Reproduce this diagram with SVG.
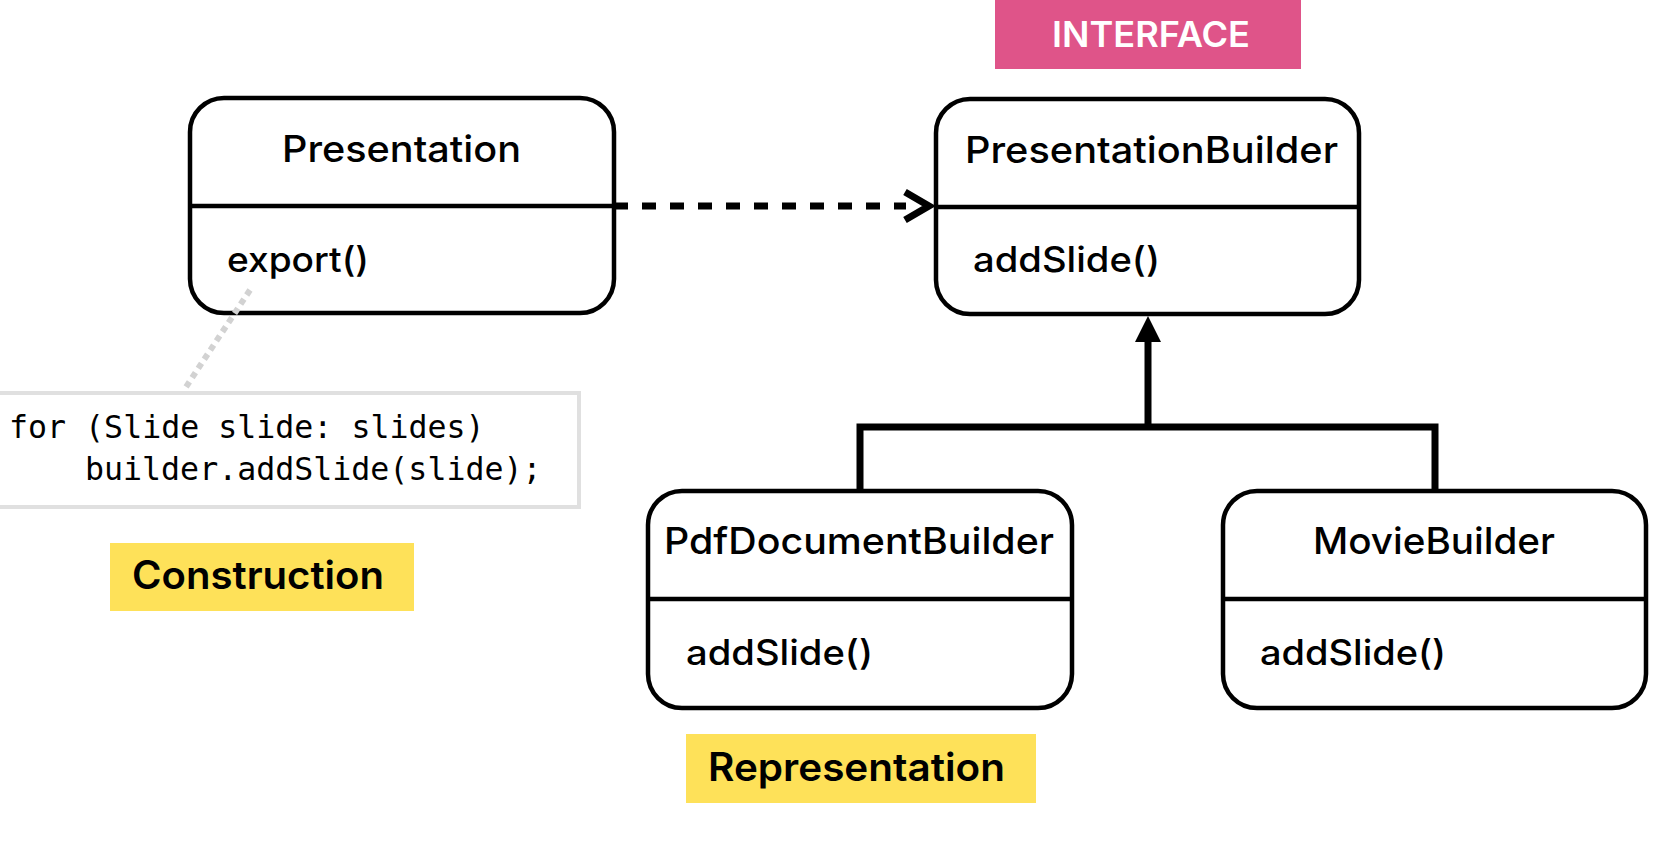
<svg xmlns="http://www.w3.org/2000/svg" width="1676" height="853" viewBox="0 0 1676 853">
<style>
.box{fill:#fff;stroke:#000;stroke-width:4.5}
.div{stroke:#000;stroke-width:4.5}
.t{font-family:Inter,"Open Sans","DejaVu Sans",sans-serif;font-weight:500;fill:#000}
.title{font-size:37px}
.meth{font-size:35px}
.lab{font-family:Inter,"Open Sans","DejaVu Sans",sans-serif;font-weight:600;font-size:39px;fill:#000}
.code{font-family:"DejaVu Sans Mono","Liberation Mono",monospace;font-size:31.6px;fill:#000}
.conn{fill:none;stroke:#000;stroke-width:7}
</style>
<rect width="1676" height="853" fill="#fff"/>

<g id="interface-tag">
<rect x="995" y="0" width="306" height="69" fill="#DF5489"/>
<text x="1052" y="47" font-family="Inter,'Open Sans',sans-serif" font-weight="600" font-size="35px" fill="#fff" textLength="198" lengthAdjust="spacingAndGlyphs">INTERFACE</text>
</g>

<g id="connectors">
<path class="conn" d="M614 206 H906" stroke-dasharray="14 14"/>
<polyline class="conn" points="905,192 929,206 905,220"/>
<polyline class="conn" points="860,491 860,427 1435,427 1435,491" stroke-linejoin="miter"/>
<line class="conn" x1="1148" y1="427" x2="1148" y2="338"/>
<polygon points="1148,316 1135,342 1161,342" fill="#000"/>
</g>

<g id="presentation">
<rect class="box" x="190" y="98" width="424" height="215" rx="34"/>
<line class="div" x1="190" y1="206" x2="614" y2="206"/>
<text class="t title" x="282" y="162" textLength="239" lengthAdjust="spacingAndGlyphs">Presentation</text>
<text class="t meth" x="227" y="272" textLength="142" lengthAdjust="spacingAndGlyphs">export()</text>
</g>

<g id="presentation-builder">
<rect class="box" x="936" y="99" width="423" height="215" rx="34"/>
<line class="div" x1="936" y1="207" x2="1359" y2="207"/>
<text class="t title" x="965" y="163" textLength="373" lengthAdjust="spacingAndGlyphs">PresentationBuilder</text>
<text class="t meth" x="973" y="272" textLength="187" lengthAdjust="spacingAndGlyphs">addSlide()</text>
</g>

<g id="pdf-document-builder">
<rect class="box" x="648" y="491" width="424" height="217" rx="34"/>
<line class="div" x1="648" y1="599" x2="1072" y2="599"/>
<text class="t title" x="664" y="554" textLength="390" lengthAdjust="spacingAndGlyphs">PdfDocumentBuilder</text>
<text class="t meth" x="686" y="665" textLength="187" lengthAdjust="spacingAndGlyphs">addSlide()</text>
</g>

<g id="movie-builder">
<rect class="box" x="1223" y="491" width="423" height="217" rx="34"/>
<line class="div" x1="1223" y1="599" x2="1646" y2="599"/>
<text class="t title" x="1313" y="554" textLength="242" lengthAdjust="spacingAndGlyphs">MovieBuilder</text>
<text class="t meth" x="1260" y="665" textLength="186" lengthAdjust="spacingAndGlyphs">addSlide()</text>
</g>

<g id="code-note">
<line x1="250" y1="290" x2="184" y2="390" stroke="#d2d2d2" stroke-width="6" stroke-dasharray="6 5"/>
<rect x="-10" y="393" width="589" height="114" fill="#fff" stroke="#e0e0e0" stroke-width="4"/>
<text class="code" x="9" y="438">for (Slide slide: slides)</text>
<text class="code" x="85" y="480">builder.addSlide(slide);</text>
</g>

<g id="construction-label">
<rect x="110" y="543" width="304" height="68" fill="#FEE159"/>
<text class="lab" x="132" y="589" textLength="252" lengthAdjust="spacingAndGlyphs">Construction</text>
</g>

<g id="representation-label">
<rect x="686" y="734" width="350" height="69" fill="#FEE159"/>
<text class="lab" x="708" y="781" textLength="297" lengthAdjust="spacingAndGlyphs">Representation</text>
</g>
</svg>
